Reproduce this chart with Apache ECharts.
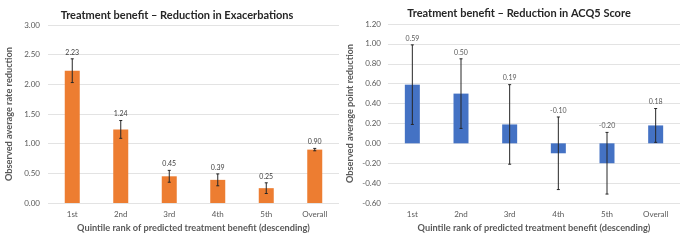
<!DOCTYPE html>
<html><head><meta charset="utf-8">
<script src="https://cdn.jsdelivr.net/npm/echarts@6/dist/echarts.min.js"></script>
<style>html,body{margin:0;padding:0;background:#fff}#c{width:685px;height:242px}</style>
</head><body><div id="c"></div>
<script>
const categories = ['1st','2nd','3rd','4th','5th','Overall'];
const exacValues = [2.23, 1.24, 0.45, 0.39, 0.25, 0.90];
const exacErrors = [0.20, 0.15, 0.10, 0.10, 0.09, 0.02];
const acqValues = [0.59, 0.50, 0.19, -0.10, -0.20, 0.18];
const acqErrors = [0.40, 0.35, 0.40, 0.365, 0.31, 0.17];
const leftTicks = {min: 0, max: 3, interval: 0.5};
const rightTicks = {min: -0.6, max: 1.2, interval: 0.2};

const FONT = 'Lato';
const chart = echarts.init(document.getElementById('c'), null, {renderer: 'canvas'});

function errSeries(vals, errs, idx, lineColor, labelColor) {
  return {
    type: 'custom', xAxisIndex: idx, yAxisIndex: idx, z: 5,
    data: vals.map((v, i) => [i, v, errs[i]]),
    renderItem: function (params, api) {
      const i = api.value(0), v = api.value(1), e = api.value(2);
      const top = api.coord([i, v + e]);
      const bot = api.coord([i, v - e]);
      const cap = 1.5;
      return {
        type: 'group',
        children: [
          {type: 'line', shape: {x1: top[0], y1: top[1], x2: bot[0], y2: bot[1]}, style: {stroke: lineColor, lineWidth: 1}},
          {type: 'line', shape: {x1: top[0]-cap, y1: top[1], x2: top[0]+cap, y2: top[1]}, style: {stroke: lineColor, lineWidth: 1}},
          {type: 'line', shape: {x1: bot[0]-cap, y1: bot[1], x2: bot[0]+cap, y2: bot[1]}, style: {stroke: lineColor, lineWidth: 1}},
          {type: 'text', x: top[0], y: top[1] - 3, style: {text: v.toFixed(2), fill: labelColor, font: '7px ' + FONT, align: 'center', verticalAlign: 'bottom'}}
        ]
      };
    }
  };
}

const axisLabelStyle = {color: '#595959', fontSize: 8, fontFamily: FONT};
const nameStyle = {color: '#595959', fontSize: 9.2, fontWeight: 'bold', fontFamily: FONT};

chart.setOption({
  animation: false,
  title: [
    {text: 'Treatment benefit – Reduction in Exacerbations', left: 172, top: 5, textAlign: 'center',
     textStyle: {fontSize: 11, fontWeight: 'bold', color: '#262626', fontFamily: FONT}},
    {text: 'Treatment benefit – Reduction in ACQ5 Score', left: 514, top: 3, textAlign: 'center',
     textStyle: {fontSize: 11, fontWeight: 'bold', color: '#262626', fontFamily: FONT}}
  ],
  grid: [
    {left: 48, top: 25, width: 291, height: 178},
    {left: 388, top: 24, width: 292, height: 179}
  ],
  xAxis: [0, 1].map(k => ({
    type: 'category', gridIndex: k, data: categories,
    axisLine: {show: false}, axisTick: {show: false},
    axisLabel: Object.assign({margin: 7}, axisLabelStyle),
    name: 'Quintile rank of predicted treatment benefit (descending)',
    nameLocation: 'middle', nameGap: 21, nameTextStyle: nameStyle
  })),
  yAxis: [
    Object.assign({type: 'value', gridIndex: 0}, leftTicks, {
      axisLabel: Object.assign({formatter: v => v.toFixed(2), margin: 8}, axisLabelStyle),
      splitLine: {lineStyle: {color: '#e3e3e3'}}, axisLine: {show: false}, axisTick: {show: false},
      name: 'Observed average rate reduction', nameLocation: 'middle', nameGap: 34, nameTextStyle: nameStyle
    }),
    Object.assign({type: 'value', gridIndex: 1}, rightTicks, {
      axisLabel: Object.assign({formatter: v => v.toFixed(2), margin: 7}, axisLabelStyle),
      splitLine: {lineStyle: {color: '#e3e3e3'}}, axisLine: {show: false}, axisTick: {show: false},
      name: 'Observed average point reduction', nameLocation: 'middle', nameGap: 33, nameTextStyle: nameStyle
    })
  ],
  series: [
    {type: 'bar', xAxisIndex: 0, yAxisIndex: 0, data: exacValues, barWidth: 15, itemStyle: {color: '#ED7D31'}},
    errSeries(exacValues, exacErrors, 0, '#262626', '#404040'),
    {type: 'bar', xAxisIndex: 1, yAxisIndex: 1, data: acqValues, barWidth: 15, itemStyle: {color: '#4472C4'}},
    errSeries(acqValues, acqErrors, 1, '#262626', '#595959')
  ]
});
</script></body></html>
